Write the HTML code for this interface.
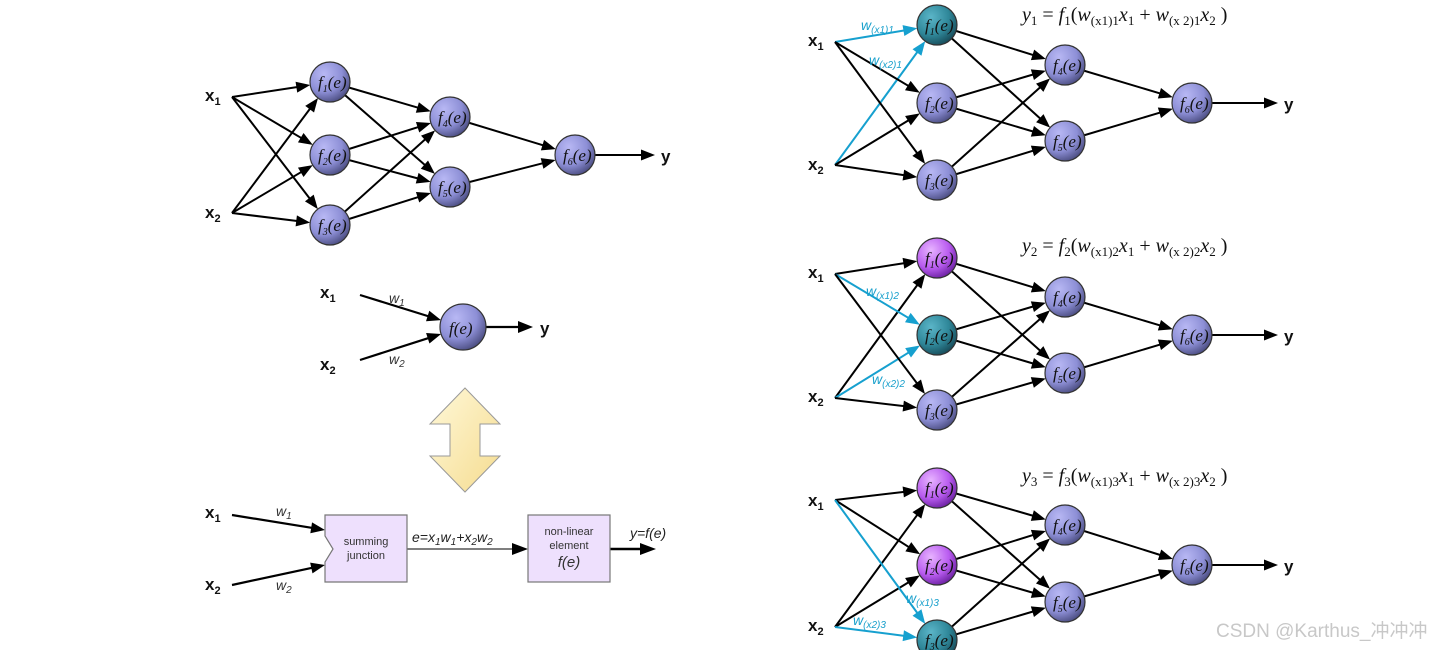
<!DOCTYPE html><html><head><meta charset="utf-8"><style>
html,body{margin:0;padding:0;background:#fff;width:1443px;height:650px;overflow:hidden}
svg{display:block}
.nl{font-family:"Liberation Serif",serif;font-style:italic;font-size:17px;fill:#111}
.x{font-family:"Liberation Sans",sans-serif;font-weight:bold;font-size:17px;fill:#111}
.w{font-family:"Liberation Sans",sans-serif;font-style:italic;font-size:14px;fill:#19a0cc}
.eq{font-family:"Liberation Serif",serif;font-style:italic;font-size:20px;fill:#111}
.eqn{font-style:normal}
</style></head><body>
<svg id="s" width="1443" height="650" viewBox="0 0 1443 650" xmlns="http://www.w3.org/2000/svg">
<defs>
<radialGradient id="gb" cx="35%" cy="30%" r="75%"><stop offset="0" stop-color="#b8b8f4"/><stop offset="0.6" stop-color="#8d8fd6"/><stop offset="1" stop-color="#4a4c80"/></radialGradient>
<radialGradient id="gm" cx="35%" cy="30%" r="75%"><stop offset="0" stop-color="#e7b3ff"/><stop offset="0.6" stop-color="#b95cf0"/><stop offset="1" stop-color="#6a1fa0"/></radialGradient>
<radialGradient id="gt" cx="35%" cy="30%" r="75%"><stop offset="0" stop-color="#5bb5c8"/><stop offset="0.6" stop-color="#2f8799"/><stop offset="1" stop-color="#174a58"/></radialGradient>
<linearGradient id="gy" x1="0" y1="0" x2="1" y2="1"><stop offset="0" stop-color="#fff8d8"/><stop offset="1" stop-color="#f5dc90"/></linearGradient>
</defs>
<g id="lines"></g>
<g id="nodes"></g>
<polygon points="465,388 500,424 480,424 480,456 500,456 465,492 430,456 450,456 450,424 430,424" fill="url(#gy)" stroke="#999" stroke-width="1"/>
<polygon points="325,515 407,515 407,582 325,582 325,562 333,549 325,536" fill="#eee0fd" stroke="#777" stroke-width="1.2"/>
<rect x="528" y="515" width="82" height="67" fill="#eee0fd" stroke="#777" stroke-width="1.2"/>
<g id="txt">
<text class="x" x="205" y="101">x<tspan font-size="11" dy="4">1</tspan></text>
<text class="x" x="205" y="218">x<tspan font-size="11" dy="4">2</tspan></text>
<text class="x" x="661" y="162">y</text>
<text class="x" x="320" y="298">x<tspan font-size="11" dy="4">1</tspan></text>
<text class="x" x="320" y="370">x<tspan font-size="11" dy="4">2</tspan></text>
<text class="x" x="540" y="334">y</text>
<text class="w" x="389" y="303" style="fill:#333">w<tspan font-size="10" dy="3">1</tspan></text>
<text class="w" x="389" y="364" style="fill:#333">w<tspan font-size="10" dy="3">2</tspan></text>
<text class="x" x="205" y="518">x<tspan font-size="11" dy="4">1</tspan></text>
<text class="x" x="205" y="590">x<tspan font-size="11" dy="4">2</tspan></text>
<text class="w" x="276" y="516" style="fill:#333">w<tspan font-size="10" dy="3">1</tspan></text>
<text class="w" x="276" y="590" style="fill:#333">w<tspan font-size="10" dy="3">2</tspan></text>
<text x="366" y="545" text-anchor="middle" font-family="Liberation Sans" font-size="11" fill="#333">summing</text>
<text x="366" y="559" text-anchor="middle" font-family="Liberation Sans" font-size="11" fill="#333">junction</text>
<text x="412" y="542" font-family="Liberation Sans" font-style="italic" font-size="14" fill="#222">e=x<tspan font-size="10" dy="3">1</tspan><tspan dy="-3">w</tspan><tspan font-size="10" dy="3">1</tspan><tspan dy="-3">+x</tspan><tspan font-size="10" dy="3">2</tspan><tspan dy="-3">w</tspan><tspan font-size="10" dy="3">2</tspan></text>
<text x="569" y="535" text-anchor="middle" font-family="Liberation Sans" font-size="11" fill="#333">non-linear</text>
<text x="569" y="549" text-anchor="middle" font-family="Liberation Sans" font-size="11" fill="#333">element</text>
<text x="569" y="567" text-anchor="middle" font-family="Liberation Sans" font-style="italic" font-size="15" fill="#333">f(e)</text>
<text x="630" y="538" font-family="Liberation Sans" font-style="italic" font-size="14" fill="#222">y=f(e)</text>

<text class="x" x="808" y="46">x<tspan font-size="11" dy="4">1</tspan></text>
<text class="x" x="808" y="170">x<tspan font-size="11" dy="4">2</tspan></text>
<text class="x" x="1284" y="110">y</text>
<text class="x" x="808" y="278">x<tspan font-size="11" dy="4">1</tspan></text>
<text class="x" x="808" y="402">x<tspan font-size="11" dy="4">2</tspan></text>
<text class="x" x="1284" y="342">y</text>
<text class="x" x="808" y="506">x<tspan font-size="11" dy="4">1</tspan></text>
<text class="x" x="808" y="631">x<tspan font-size="11" dy="4">2</tspan></text>
<text class="x" x="1284" y="572">y</text>

<text class="w" x="861" y="30">w<tspan font-size="10" dy="3">(x1)1</tspan></text>
<text class="w" x="869" y="65">w<tspan font-size="10" dy="3">(x2)1</tspan></text>
<text class="w" x="866" y="296">w<tspan font-size="10" dy="3">(x1)2</tspan></text>
<text class="w" x="872" y="384">w<tspan font-size="10" dy="3">(x2)2</tspan></text>
<text class="w" x="906" y="603">w<tspan font-size="10" dy="3">(x1)3</tspan></text>
<text class="w" x="853" y="625">w<tspan font-size="10" dy="3">(x2)3</tspan></text>

<text class="eq" x="1022" y="21">y<tspan class="eqn" font-size="13" dy="4">1</tspan><tspan class="eqn" dy="-4"> = </tspan>f<tspan class="eqn" font-size="13" dy="4">1</tspan><tspan class="eqn" dy="-4">(</tspan>w<tspan class="eqn" font-size="13" dy="4">(x1)1</tspan><tspan dy="-4">x</tspan><tspan class="eqn" font-size="13" dy="4">1</tspan><tspan class="eqn" dy="-4"> + </tspan>w<tspan class="eqn" font-size="13" dy="4">(x 2)1</tspan><tspan dy="-4">x</tspan><tspan class="eqn" font-size="13" dy="4">2</tspan><tspan class="eqn" dy="-4"> )</tspan></text>
<text class="eq" x="1022" y="252">y<tspan class="eqn" font-size="13" dy="4">2</tspan><tspan class="eqn" dy="-4"> = </tspan>f<tspan class="eqn" font-size="13" dy="4">2</tspan><tspan class="eqn" dy="-4">(</tspan>w<tspan class="eqn" font-size="13" dy="4">(x1)2</tspan><tspan dy="-4">x</tspan><tspan class="eqn" font-size="13" dy="4">1</tspan><tspan class="eqn" dy="-4"> + </tspan>w<tspan class="eqn" font-size="13" dy="4">(x 2)2</tspan><tspan dy="-4">x</tspan><tspan class="eqn" font-size="13" dy="4">2</tspan><tspan class="eqn" dy="-4"> )</tspan></text>
<text class="eq" x="1022" y="482">y<tspan class="eqn" font-size="13" dy="4">3</tspan><tspan class="eqn" dy="-4"> = </tspan>f<tspan class="eqn" font-size="13" dy="4">3</tspan><tspan class="eqn" dy="-4">(</tspan>w<tspan class="eqn" font-size="13" dy="4">(x1)3</tspan><tspan dy="-4">x</tspan><tspan class="eqn" font-size="13" dy="4">1</tspan><tspan class="eqn" dy="-4"> + </tspan>w<tspan class="eqn" font-size="13" dy="4">(x 2)3</tspan><tspan dy="-4">x</tspan><tspan class="eqn" font-size="13" dy="4">2</tspan><tspan class="eqn" dy="-4"> )</tspan></text>

<text x="1216" y="637" font-family="Liberation Sans, 'Noto Sans CJK SC', sans-serif" font-size="19" fill="#c8c8c8">CSDN @Karthus_冲冲冲</text>
</g>
<g id="labels">
<text class="nl" x="318" y="88">f<tspan font-size="10" dy="4">1</tspan><tspan dy="-4">(e)</tspan></text>
<text class="nl" x="318" y="161">f<tspan font-size="10" dy="4">2</tspan><tspan dy="-4">(e)</tspan></text>
<text class="nl" x="318" y="231">f<tspan font-size="10" dy="4">3</tspan><tspan dy="-4">(e)</tspan></text>
<text class="nl" x="438" y="123">f<tspan font-size="10" dy="4">4</tspan><tspan dy="-4">(e)</tspan></text>
<text class="nl" x="438" y="193">f<tspan font-size="10" dy="4">5</tspan><tspan dy="-4">(e)</tspan></text>
<text class="nl" x="563" y="161">f<tspan font-size="10" dy="4">6</tspan><tspan dy="-4">(e)</tspan></text>
<text class="nl" x="449" y="334" font-size="19">f(e)</text>
<text class="nl" x="925" y="31">f<tspan font-size="10" dy="4">1</tspan><tspan dy="-4">(e)</tspan></text>
<text class="nl" x="925" y="109">f<tspan font-size="10" dy="4">2</tspan><tspan dy="-4">(e)</tspan></text>
<text class="nl" x="925" y="186">f<tspan font-size="10" dy="4">3</tspan><tspan dy="-4">(e)</tspan></text>
<text class="nl" x="1053" y="71">f<tspan font-size="10" dy="4">4</tspan><tspan dy="-4">(e)</tspan></text>
<text class="nl" x="1053" y="147">f<tspan font-size="10" dy="4">5</tspan><tspan dy="-4">(e)</tspan></text>
<text class="nl" x="1180" y="109">f<tspan font-size="10" dy="4">6</tspan><tspan dy="-4">(e)</tspan></text>
<text class="nl" x="925" y="264">f<tspan font-size="10" dy="4">1</tspan><tspan dy="-4">(e)</tspan></text>
<text class="nl" x="925" y="341">f<tspan font-size="10" dy="4">2</tspan><tspan dy="-4">(e)</tspan></text>
<text class="nl" x="925" y="416">f<tspan font-size="10" dy="4">3</tspan><tspan dy="-4">(e)</tspan></text>
<text class="nl" x="1053" y="303">f<tspan font-size="10" dy="4">4</tspan><tspan dy="-4">(e)</tspan></text>
<text class="nl" x="1053" y="379">f<tspan font-size="10" dy="4">5</tspan><tspan dy="-4">(e)</tspan></text>
<text class="nl" x="1180" y="341">f<tspan font-size="10" dy="4">6</tspan><tspan dy="-4">(e)</tspan></text>
<text class="nl" x="925" y="494">f<tspan font-size="10" dy="4">1</tspan><tspan dy="-4">(e)</tspan></text>
<text class="nl" x="925" y="571">f<tspan font-size="10" dy="4">2</tspan><tspan dy="-4">(e)</tspan></text>
<text class="nl" x="925" y="646">f<tspan font-size="10" dy="4">3</tspan><tspan dy="-4">(e)</tspan></text>
<text class="nl" x="1053" y="531">f<tspan font-size="10" dy="4">4</tspan><tspan dy="-4">(e)</tspan></text>
<text class="nl" x="1053" y="608">f<tspan font-size="10" dy="4">5</tspan><tspan dy="-4">(e)</tspan></text>
<text class="nl" x="1180" y="571">f<tspan font-size="10" dy="4">6</tspan><tspan dy="-4">(e)</tspan></text>
</g>
</svg>
<script>
var NS="http://www.w3.org/2000/svg";
var L=document.getElementById('lines'),N=document.getElementById('nodes');
function el(t,a,p){var e=document.createElementNS(NS,t);for(var k in a)e.setAttribute(k,a[k]);p.appendChild(e);return e;}
function arrow(x1,y1,x2,y2,r,col,w){
  var dx=x2-x1,dy=y2-y1,d=Math.sqrt(dx*dx+dy*dy),ux=dx/d,uy=dy/d;
  var ex=x2-ux*r,ey=y2-uy*r,hl=14,hw=5.5;
  var bx=ex-ux*hl,by=ey-uy*hl;
  el('line',{x1:x1,y1:y1,x2:bx+ux*2,y2:by+uy*2,stroke:col,'stroke-width':w||2},L);
  el('polygon',{points:ex+','+ey+' '+(bx-uy*hw)+','+(by+ux*hw)+' '+(bx+uy*hw)+','+(by-ux*hw),fill:col},L);
}
function circ(x,y,r,g){el('circle',{cx:x,cy:y,r:r,fill:'url(#'+g+')',stroke:'#333','stroke-width':1.2},N);}
function net(nd,s1,s2,yend,blue,cols){
  for(var i=1;i<=3;i++){
    arrow(s1[0],s1[1],nd[i][0],nd[i][1],20,blue==i?'#16a0cf':'#000');
    arrow(s2[0],s2[1],nd[i][0],nd[i][1],20,blue==i?'#16a0cf':'#000');
  }
  for(i=1;i<=3;i++)for(var j=4;j<=5;j++)arrow(nd[i][0],nd[i][1],nd[j][0],nd[j][1],20,'#000');
  arrow(nd[4][0],nd[4][1],nd[6][0],nd[6][1],20,'#000');
  arrow(nd[5][0],nd[5][1],nd[6][0],nd[6][1],20,'#000');
  el('line',{x1:nd[6][0]+20,y1:nd[6][1],x2:yend-12,y2:nd[6][1],stroke:'#000','stroke-width':2},L);
  el('polygon',{points:yend+','+nd[6][1]+' '+(yend-14)+','+(nd[6][1]-5.5)+' '+(yend-14)+','+(nd[6][1]+5.5),fill:'#000'},L);
  for(i=1;i<=6;i++)circ(nd[i][0],nd[i][1],20,cols[i]||'gb');
}
net({1:[330,82],2:[330,155],3:[330,225],4:[450,117],5:[450,187],6:[575,155]},[232,97],[232,213],655,0,{});
function sh(o){return {1:[937,25+o[0]],2:[937,103+o[1]],3:[937,180+o[2]],4:[1065,65+o[3]],5:[1065,141+o[4]],6:[1192,103+o[5]]};}
net(sh([0,0,0,0,0,0]),[835,42],[835,165],1278,1,{1:'gt'});
net(sh([233,232,230,232,232,232]),[835,274],[835,398],1278,2,{1:'gm',2:'gt'});
net(sh([463,462,460,460,461,462]),[835,500],[835,627],1278,3,{1:'gm',2:'gm',3:'gt'});
arrow(360,295,463,327,23,'#000',2.2);
arrow(360,360,463,327,23,'#000',2.2);
el('line',{x1:486,y1:327,x2:520,y2:327,stroke:'#000','stroke-width':2.2},L);
el('polygon',{points:'533,327 518,321 518,333',fill:'#000'},L);
circ(463,327,23,'gb');
arrow(232,515,325,530,0,'#000',2.2);
arrow(232,585,325,565,0,'#000',2.2);
el('line',{x1:407,y1:549,x2:515,y2:549,stroke:'#555','stroke-width':1.5},L);
el('polygon',{points:'528,549 512,543 512,555',fill:'#000'},L);
el('line',{x1:610,y1:549,x2:642,y2:549,stroke:'#000','stroke-width':2.5},L);
el('polygon',{points:'656,549 640,543 640,555',fill:'#000'},L);
</script>
</body></html>
